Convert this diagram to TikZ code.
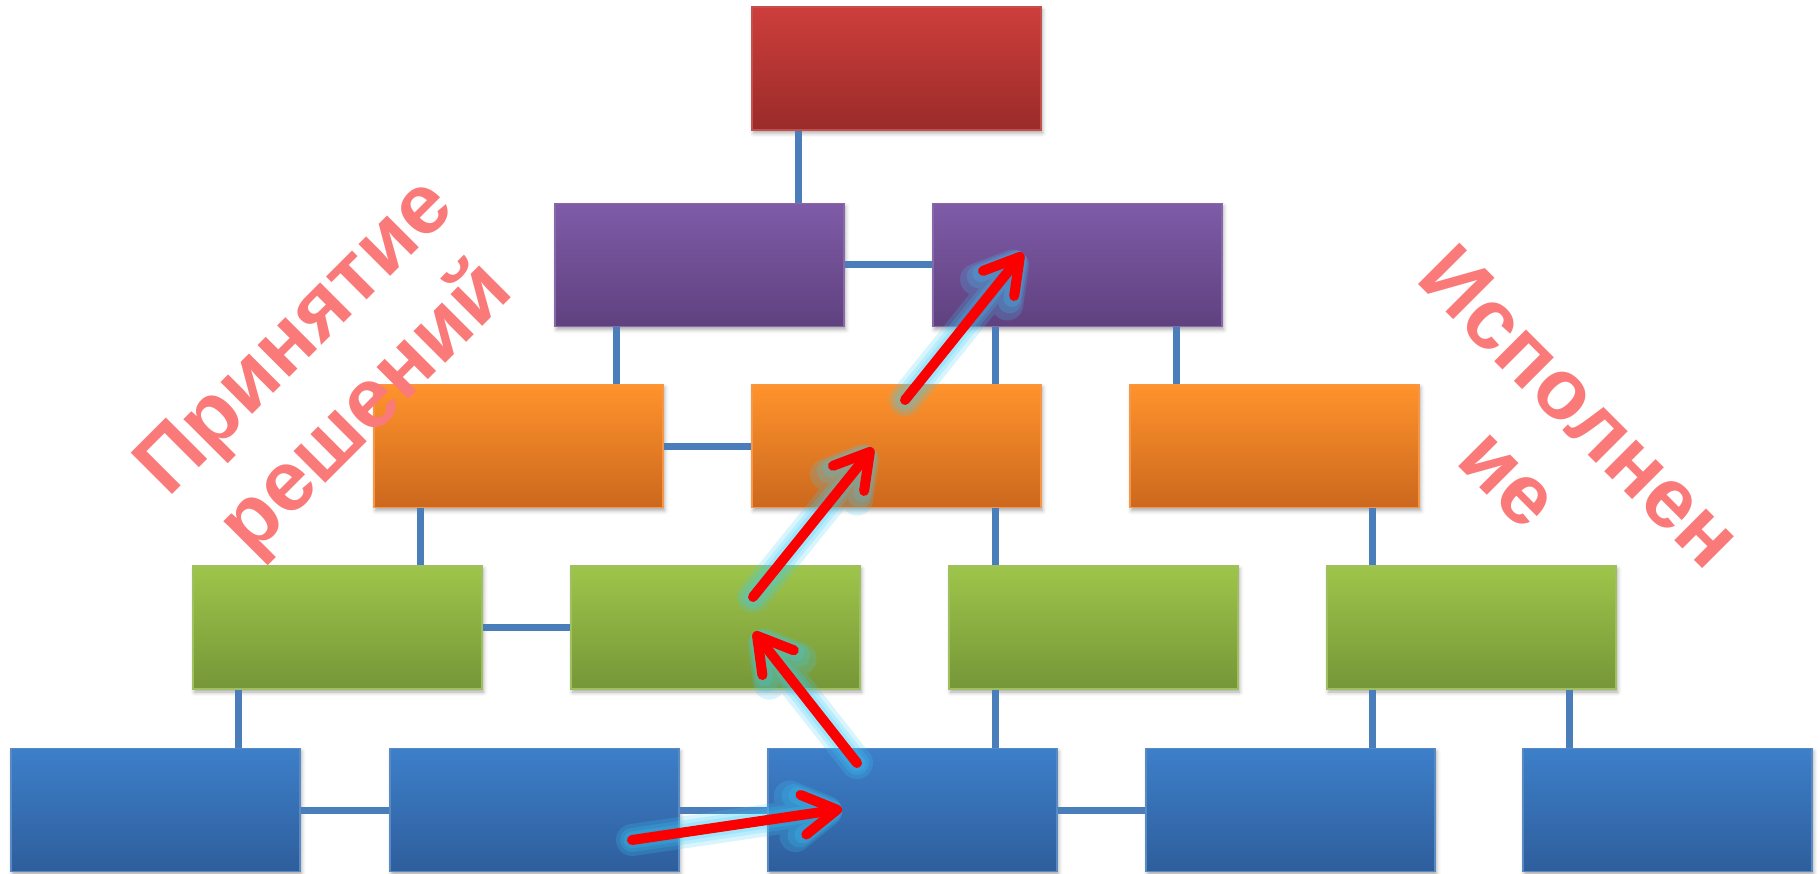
\documentclass[tikz,border=0pt]{standalone}
\usepackage{fontspec}
\setmainfont{Liberation Sans}
\usetikzlibrary{positioning,arrows.meta,shadows.blur}

\definecolor{linkblue}{RGB}{74,126,187}
\definecolor{redtop}{RGB}{205,62,59}
\definecolor{redbot}{RGB}{154,43,41}
\definecolor{redline}{RGB}{195,80,77}
\definecolor{purtop}{RGB}{127,91,168}
\definecolor{purbot}{RGB}{95,65,127}
\definecolor{purline}{RGB}{135,105,170}
\definecolor{orgtop}{RGB}{255,147,44}
\definecolor{orgbot}{RGB}{204,104,30}
\definecolor{orgline}{RGB}{247,150,70}
\definecolor{grntop}{RGB}{158,197,74}
\definecolor{grnbot}{RGB}{118,150,56}
\definecolor{grnline}{RGB}{160,192,95}
\definecolor{blutop}{RGB}{61,127,201}
\definecolor{blubot}{RGB}{46,94,156}
\definecolor{bluline}{RGB}{90,138,196}
\definecolor{arrowred}{RGB}{250,0,0}
\definecolor{glow}{RGB}{60,205,250}
\definecolor{sloganpink}{RGB}{250,122,122}

\tikzset{
    box/.style={rectangle, minimum width=289pt, minimum height=123pt, inner sep=0pt, line width=1.2pt,
        blur shadow={shadow xshift=1.5pt, shadow yshift=-3pt, shadow blur radius=4pt, shadow opacity=35}},
    redbox/.style={box, draw=redline, top color=redtop, bottom color=redbot},
    purbox/.style={box, draw=purline, top color=purtop, bottom color=purbot},
    orgbox/.style={box, draw=orgline, top color=orgtop, bottom color=orgbot},
    grnbox/.style={box, draw=grnline, top color=grntop, bottom color=grnbot},
    blubox/.style={box, draw=bluline, top color=blutop, bottom color=blubot},
    link/.style={draw=linkblue, line width=7pt},
    flow/.style={draw=arrowred, line width=10pt, line cap=round, -{Straight Barb[round, length=34pt, width=40pt]}},
    halo/.style={flow, draw=glow, line width=#1},
    slogan/.style={text=sloganpink, font=\fontsize{85}{100}\selectfont\bfseries, align=center, inner sep=0pt}
}

\begin{document}
\begin{tikzpicture}[x=1pt, y=-1pt]

    \useasboundingbox (0,0) rectangle (1820,874);

    % boxes, row by row
    \node[redbox] (top) at (896.5,68.5) {};
    \foreach \x [count=\i] in {699.5,1077.5}
        \node[purbox] (p\i) at (\x,265) {};
    \foreach \x [count=\i] in {518.5,896.5,1274.5}
        \node[orgbox] (o\i) at (\x,446) {};
    \foreach \x [count=\i] in {337.5,715.5,1093.5,1471.5}
        \node[grnbox] (g\i) at (\x,627.5) {};
    \foreach \x [count=\i] in {155.5,534.5,912.5,1290.5,1667.5}
        \node[blubox] (b\i) at (\x,810) {};

    % vertical links
    \foreach \a/\b/\x in {top/p1/798, p1/o1/616, p2/o2/995, p2/o3/1176, o1/g1/420,
                          o2/g3/995, o3/g4/1372, g1/b1/238, g3/b3/995, g4/b4/1372, g4/b5/1569} {
        \path[link] (\a.south -| \x,0) -- (\b.north -| \x,0);
    }

    % horizontal links
    \foreach \a/\b in {p1/p2, o1/o2, g1/g2, b1/b2, b2/b3, b3/b4} {
        \path[link] (\a.east) -- (\b.west);
    }

    % path of the arrows
    \coordinate (s1) at (632,840);  \coordinate (e1) at (842,809);
    \coordinate (s2) at (857,763);  \coordinate (e2) at (754,632);
    \coordinate (s3) at (753,597);  \coordinate (e3) at (873,448);
    \coordinate (s4) at (905,400);  \coordinate (e4) at (1023,253);

    \foreach \i in {1,...,4} {
        \foreach \w in {32,24,17} {
            \begin{scope}[transparency group, opacity=0.2]
                \path[halo=\w pt] (s\i) -- (e\i);
            \end{scope}
        }
        \path[flow] (s\i) -- (e\i);
    }

    % slanted captions
    \node[slogan, rotate=45] (decide) at (333.5,375.5) {Принятие\\решений};
    \node[slogan, rotate=-45] (execute) at (1545.5,442) {Исполнен\\ие};

\end{tikzpicture}
\end{document}
